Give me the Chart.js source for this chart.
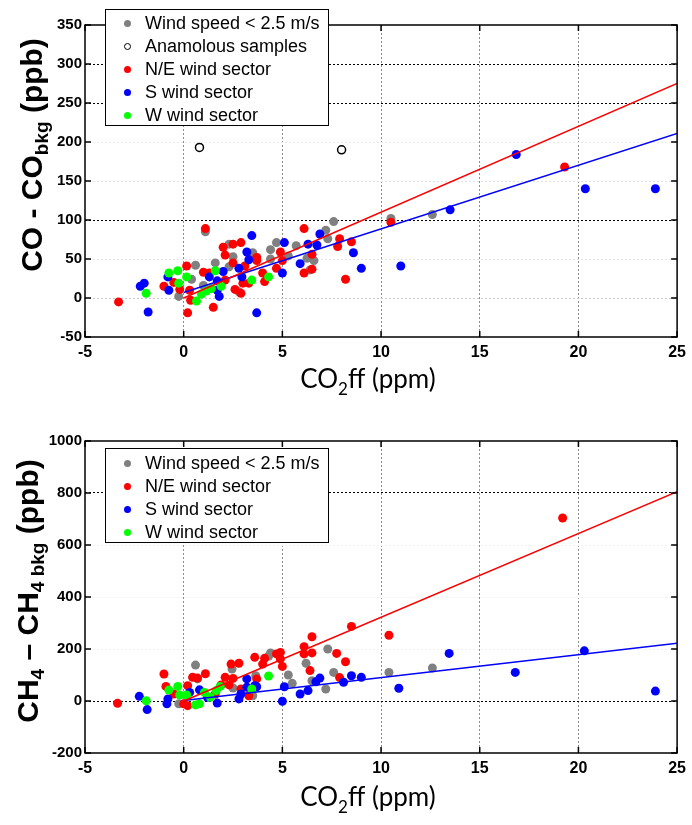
<!DOCTYPE html>
<html>
<head>
<meta charset="utf-8">
<script src="https://cdn.jsdelivr.net/npm/chart.js@4.4.1/dist/chart.umd.min.js"></script>
<style>
  body { margin: 0; background: #fff; width: 692px; height: 825px; position: relative; overflow: hidden;
         font-family: "Liberation Sans", Arial, sans-serif; }
  .wrap { position: absolute; left: 0; width: 692px; }
  .legend { position: absolute; left: 105px; width: 224px; border: 1px solid #000; background: #fff;
            font-size: 18px; color: #000; box-sizing: border-box; padding-top: 2px; }
  .legend div { position: relative; height: 23px; line-height: 23px; padding-left: 39px; white-space: nowrap; }
  .legend span { position: absolute; left: 18px; top: 8px; width: 7px; height: 7px; border-radius: 50%; box-sizing: border-box; }
</style>
</head>
<body>
<div class="wrap" style="top:0;height:412px"><canvas id="coChart"></canvas></div>
<div class="wrap" style="top:412px;height:413px"><canvas id="chChart"></canvas></div>

<div class="legend" style="top:9px;height:117px">
  <div><span style="background:#808080"></span>Wind speed &lt; 2.5 m/s</div>
  <div><span style="background:#fff;border:1.5px solid #000"></span>Anamolous samples</div>
  <div><span style="background:#ff0000"></span>N/E wind sector</div>
  <div><span style="background:#0000ff"></span>S wind sector</div>
  <div><span style="background:#00ff00"></span>W wind sector</div>
</div>
<div class="legend" style="top:448px;height:95px;padding-top:3px">
  <div><span style="background:#808080"></span>Wind speed &lt; 2.5 m/s</div>
  <div><span style="background:#ff0000"></span>N/E wind sector</div>
  <div><span style="background:#0000ff"></span>S wind sector</div>
  <div><span style="background:#00ff00"></span>W wind sector</div>
</div>

<script>
// ---- data ----
const xTicks = [-5, 0, 5, 10, 15, 20, 25];
const coTicks = [-50, 0, 50, 100, 150, 200, 250, 300, 350];
const chTicks = [-200, 0, 200, 400, 600, 800, 1000];

// CO - CObkg vs CO2ff
const coCalm = [[-0.25,2],[0.6,42],[1.1,85],[1.6,45],[2.3,69],[2.5,53],[2.3,40],[3.5,58],[4.4,62],[4.7,71],
  [4.4,50],[5.7,67],[5.3,54],[6.25,51],[6.6,48],[6.4,36],[7.2,87],[7.3,76],[7.6,98],[10.5,102],[1.0,16],
  [0.4,24],[2.8,8],[12.6,107]];
const coAnom = [[0.8,193],[8.0,190]];
const coNE = [[-3.3,-5],[0.2,-19],[1.1,89],[0.15,41],[-1.0,15],[-0.5,20],[-0.2,11],[0.3,10],[0.35,-3],[1.0,33],
  [1.3,32],[1.5,-12],[2.0,65],[2.1,55],[2.5,69],[2.9,71],[2.5,45],[2.1,23],[2.6,11],[2.9,6],[3.0,19],[3.3,19],
  [3.1,41],[3.7,52],[3.7,48],[4.0,32],[4.1,21],[4.7,38],[4.9,59],[5.0,48],[6.1,89],[6.1,32],[6.5,37],[6.5,56],
  [7.8,66],[7.9,76],[8.5,72],[8.2,24],[10.5,97],[19.3,168]];
const coS = [[-1.8,-18],[-2.2,15],[-2.0,19],[-0.75,10],[-0.8,27],[1.3,27],[1.7,22],[1.7,10],[1.8,2],[2.0,34],
  [2.8,38],[2.95,27],[3.2,59],[3.3,49],[3.45,80],[3.7,-19],[5.1,71],[5.0,32],[5.9,44],[6.3,69],[6.75,68],
  [6.9,82],[8.6,58],[9.0,38],[11.0,41],[13.5,113],[16.85,184],[20.35,140],[23.9,140]];
const coW = [[-1.9,6],[-0.75,32],[-0.3,35],[0.15,27],[-0.25,19],[0.65,-4],[0.9,5],[1.15,9],[1.4,12],[1.6,35],
  [1.9,15],[3.45,23],[4.3,27]];
const coFitNE = [[0,0],[25,275]];
const coFitS = [[0,7],[25,211]];

// CH4 - CH4bkg vs CO2ff
const chCalm = [[0.6,138],[-0.25,-11],[0.7,85],[2.45,123],[4.4,185],[4.3,172],[3.65,97],[5.3,100],[5.5,68],
  [6.2,145],[6.5,78],[7.2,46],[7.3,200],[7.6,110],[10.4,110],[2.5,50],[3.5,20],[12.6,127]];
const chNE = [[-3.35,-9],[-1.0,104],[-0.9,56],[-0.5,27],[0,-11],[0.2,-18],[0.2,59],[0.45,91],[0.7,88],[1.1,105],
  [2.1,91],[2.4,142],[2.8,145],[2.5,87],[2.3,62],[1.9,62],[1.6,27],[2.9,46],[3.3,20],[3.6,168],[4.0,142],
  [4.1,164],[3.7,85],[4.7,181],[4.9,187],[4.9,162],[5.0,133],[6.1,209],[6.1,181],[6.5,247],[6.5,185],
  [6.4,117],[7.75,183],[8.2,151],[7.9,90],[8.5,287],[10.4,253],[19.2,704]];
const chS = [[-2.25,18],[-1.85,-33],[-0.85,-11],[-0.8,8],[0.3,33],[0.8,43],[1.2,14],[1.7,-8],[2.8,8],[2.9,27],
  [3.2,85],[3.2,53],[3.6,59],[3.7,55],[5.1,55],[5.0,-1],[5.9,27],[6.3,40],[6.7,74],[6.9,88],[8.1,72],[8.5,97],
  [9.0,91],[10.9,49],[13.45,183],[16.8,110],[20.3,193],[23.9,38]];
const chW = [[-1.9,1],[-0.75,42],[-0.3,56],[-0.2,23],[0.15,23],[0.6,-15],[0.8,-11],[1.05,33],[1.35,14],
  [1.65,40],[1.85,56],[3.45,46],[4.3,96]];
const chFitNE = [[0,0],[25,805]];
const chFitS = [[0,2],[25,222]];

const pts = (arr) => arr.map(([x, y]) => ({ x, y }));

function dots(data, color, order) {
  return { data: pts(data), backgroundColor: color, borderWidth: 0, pointRadius: 4.5, pointHoverRadius: 4.5, order };
}
function fit(data, color) {
  return { data: pts(data), showLine: true, borderColor: color, borderWidth: 1.5, pointRadius: 0, order: 0 };
}

// box, inward ticks and axis titles (with subscripts)
const frame = {
  id: "frame",
  afterDraw(chart, args, o) {
    const { ctx, chartArea: a, scales } = chart;
    ctx.save();
    ctx.strokeStyle = "#000";
    ctx.lineWidth = 1.5;
    ctx.strokeRect(a.left, a.top, a.right - a.left, a.bottom - a.top);
    ctx.beginPath();
    scales.x.ticks.forEach((t) => {
      const p = scales.x.getPixelForValue(t.value);
      ctx.moveTo(p, a.bottom); ctx.lineTo(p, a.bottom - 6);
      ctx.moveTo(p, a.top); ctx.lineTo(p, a.top + 6);
    });
    scales.y.ticks.forEach((t) => {
      const p = scales.y.getPixelForValue(t.value);
      ctx.moveTo(a.left, p); ctx.lineTo(a.left + 6, p);
      ctx.moveTo(a.right, p); ctx.lineTo(a.right - 6, p);
    });
    ctx.stroke();
    drawParts(ctx, o.yTitle, o.yTitleX, o.yTitleY, true);
    drawParts(ctx, o.xTitle, o.xTitleX, o.xTitleY, false);
    ctx.restore();
  },
};

function drawParts(ctx, parts, x, y, rotate) {
  ctx.save();
  ctx.translate(x, y);
  if (rotate) ctx.rotate(-Math.PI / 2);
  let w = 0;
  parts.forEach((p) => { ctx.font = p.font; w += ctx.measureText(p.text).width; });
  let cx = -w / 2;
  ctx.fillStyle = "#000";
  ctx.textAlign = "left";
  ctx.textBaseline = "alphabetic";
  parts.forEach((p) => {
    ctx.font = p.font;
    ctx.fillText(p.text, cx, p.dy || 0);
    cx += ctx.measureText(p.text).width;
  });
  ctx.restore();
}

const BIG = "bold 30px 'Liberation Sans', Arial, sans-serif";
const SUB = "bold 19px 'Liberation Sans', Arial, sans-serif";
const XT = "26px Lato, 'Open Sans', sans-serif";
const XS = "17px Lato, 'Open Sans', sans-serif";
const xTitle = [{ text: "CO", font: XT }, { text: "2", font: XS, dy: 7 }, { text: "ff (ppm)", font: XT }];

function makeChart(id, sets, yTicks, gridY, cfg) {
  return new Chart(document.getElementById(id), {
    type: "scatter",
    data: { datasets: sets },
    plugins: [frame],
    options: {
      responsive: true,
      maintainAspectRatio: false,
      animation: false,
      layout: { padding: { left: 0, right: cfg.right, top: cfg.top, bottom: 0 } },
      plugins: {
        legend: { display: false },
        tooltip: { enabled: false },
        frame: cfg.frame,
      },
      scales: {
        x: {
          type: "linear",
          min: -5, max: 25,
          afterBuildTicks: (s) => { s.ticks = xTicks.map((v) => ({ value: v })); },
          afterFit: (s) => { s.height = cfg.xHeight; },
          grid: {
            drawTicks: false,
            lineWidth: 1,
            color: (c) => (c.tick && (c.tick.value === -5 || c.tick.value === 25) ? "rgba(0,0,0,0)" : "#8c8c8c"),
          },
          border: { display: false, dash: [2, 2] },
          ticks: { padding: 6, color: "#000", callback: (v) => String(v),
                   font: { family: "'Liberation Sans', Arial", size: 16, weight: "bold" } },
        },
        y: {
          type: "linear",
          min: yTicks[0], max: yTicks[yTicks.length - 1],
          afterBuildTicks: (s) => { s.ticks = yTicks.map((v) => ({ value: v })); },
          afterFit: (s) => { s.width = 85; },
          grid: {
            drawTicks: false,
            lineWidth: 1,
            color: (c) => (c.tick && gridY[c.tick.value]) || "rgba(0,0,0,0)",
          },
          border: { display: false, dash: [2, 2] },
          ticks: { padding: 3, color: "#000", callback: (v) => String(v),
                   font: { family: "'Liberation Sans', Arial", size: 15, weight: "bold" } },
        },
      },
    },
  });
}

makeChart("coChart", [
  fit(coFitNE, "#ff0000"),
  fit(coFitS, "#0000ff"),
  dots(coW, "#00ff00", 1),
  dots(coS, "#0000ff", 2),
  dots(coNE, "#ff0000", 3),
  dots(coCalm, "#808080", 4),
  { data: pts(coAnom), backgroundColor: "#fff", borderColor: "#000", borderWidth: 1.5, pointRadius: 4, order: 1 },
], coTicks,
  { 0: "#c8c8c8", 50: "#e4e4e4", 100: "#000", 150: "#e4e4e4", 200: "#ececec", 250: "#000", 300: "#000" },
  {
    right: 11, top: 25, xHeight: 75,
    frame: {
      yTitle: [{ text: "CO - CO", font: BIG }, { text: "bkg", font: SUB, dy: 6 }, { text: " (ppb)", font: BIG }],
      yTitleX: 42, yTitleY: 155,
      xTitle, xTitleX: 368, xTitleY: 388,
    },
  });

makeChart("chChart", [
  fit(chFitNE, "#ff0000"),
  fit(chFitS, "#0000ff"),
  dots(chW, "#00ff00", 1),
  dots(chS, "#0000ff", 2),
  dots(chNE, "#ff0000", 3),
  dots(chCalm, "#808080", 4),
], chTicks,
  { 0: "#000", 200: "#f2f2f2", 400: "#f2f2f2", 600: "#f2f2f2", 800: "#000" },
  {
    right: 12, top: 29, xHeight: 72,
    frame: {
      yTitle: [{ text: "CH", font: BIG }, { text: "4", font: SUB, dy: 6 }, { text: " \u2013 CH", font: BIG },
               { text: "4 bkg", font: SUB, dy: 6 }, { text: " (ppb)", font: BIG }],
      yTitleX: 38, yTitleY: 179,
      xTitle, xTitleX: 368, xTitleY: 394,
    },
  });
</script>
</body>
</html>
